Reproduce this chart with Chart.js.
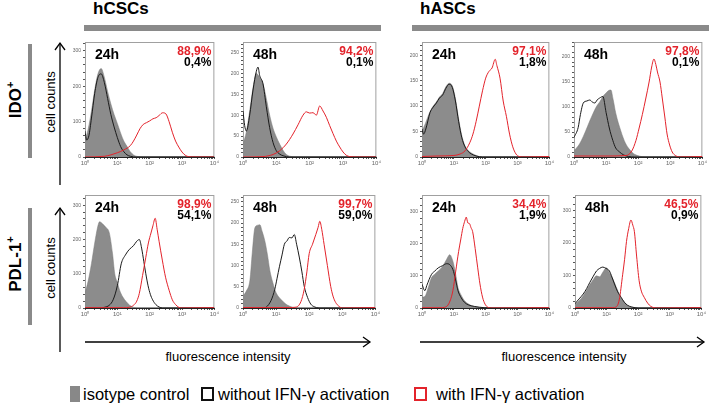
<!DOCTYPE html>
<html>
<head>
<meta charset="utf-8">
<script src="https://cdn.jsdelivr.net/npm/chart.js@4.4.0/dist/chart.umd.min.js"></script>
<style>
body { margin: 0; background: #fff; font-family: "Liberation Sans", Arial, sans-serif; }
#wrap { position: relative; width: 709px; height: 407px; overflow: hidden; }
canvas { position: absolute; }
.abs { position: absolute; white-space: nowrap; color: #000; }
.head { font-weight: bold; font-size: 17px; line-height: 20px; }
.bar { position: absolute; background: #8a8a8a; }
.rot { position: absolute; white-space: nowrap; transform: translate(-50%, -50%) rotate(-90deg); }
.row { font-weight: bold; font-size: 17px; }
.cc { font-size: 13px; }
.fl { font-size: 13px; transform: translateX(-50%); }
.leg { font-size: 16.5px; line-height: 18px; }
.sw { position: absolute; box-sizing: border-box; }
svg { position: absolute; left: 0; top: 0; }
</style>
</head>
<body>
<div id="wrap">
  <div class="abs head" style="left:93px;top:-1px">hCSCs</div>
  <div class="abs head" style="left:420px;top:-1px">hASCs</div>
  <div class="bar" style="left:84px;top:25px;width:297px;height:6px"></div>
  <div class="bar" style="left:412px;top:25px;width:297px;height:6px"></div>
  <div class="bar" style="left:28px;top:44px;width:4px;height:114px"></div>
  <div class="bar" style="left:28px;top:208px;width:4px;height:117px"></div>
  <div class="rot row" style="left:15px;top:100px">IDO<sup style="font-size:11px">+</sup></div>
  <div class="rot row" style="left:15px;top:264px">PDL-1<sup style="font-size:11px">+</sup></div>
  <div class="rot cc" style="left:50px;top:102px">cell counts</div>
  <div class="rot cc" style="left:50px;top:268px">cell counts</div>
  <div class="abs fl" style="left:228px;top:349px">fluorescence intensity</div>
  <div class="abs fl" style="left:564px;top:349px">fluorescence intensity</div>
  <svg width="709" height="407">
    <g stroke="#000" stroke-width="1.3" fill="none">
      <line x1="60" y1="185" x2="60" y2="43"/>
      <polyline points="55,50 60,43 65,50"/>
      <line x1="60" y1="352" x2="60" y2="208"/>
      <polyline points="55,215 60,208 65,215"/>
      <line x1="85" y1="342" x2="370" y2="342"/>
      <polyline points="363,337 370,342 363,347"/>
      <line x1="420" y1="342" x2="704" y2="342"/>
      <polyline points="697,337 704,342 697,347"/>
    </g>
  </svg>
  <div class="sw" style="left:70px;top:386px;width:10px;height:16px;background:#888"></div>
  <div class="abs leg" style="left:83px;top:385px">isotype control</div>
  <div class="sw" style="left:201px;top:387px;width:13px;height:14px;border:2px solid #111"></div>
  <div class="abs leg" style="left:218px;top:385px">without IFN-γ activation</div>
  <div class="sw" style="left:414px;top:387px;width:13px;height:14px;border:2px solid #e3232b"></div>
  <div class="abs leg" style="left:436px;top:385px">with IFN-γ activation</div>
</div>
<script>
// histogram points: [log10 of fluorescence, cell count]
const timeLabels = ['24h', '48h', '24h', '48h', '24h', '48h', '24h', '48h'];
const withPct = ['88,9%', '94,2%', '97,1%', '97,8%', '98,9%', '99,7%', '34,4%', '46,5%'];
const withoutPct = ['0,4%', '0,1%', '1,8%', '0,1%', '54,1%', '59,0%', '1,9%', '0,9%'];
const yMax = [325, 275, 226, 230, 330, 266, 352, 348];
const yStep = [100, 50, 50, 50, 100, 50, 100, 100];

// hCSCs IDO+ 24h
const cscIdo24Iso = [[0,46],[0.1,80],[0.2,130],[0.3,190],[0.4,235],[0.5,250],[0.6,225],[0.7,185],[0.8,150],[0.9,120],[1.0,95],[1.1,68],[1.2,45],[1.3,30],[1.4,15],[1.5,6],[1.6,2],[1.8,0],[4,0]];
const cscIdo24Without = [[0,73],[0.05,48],[0.12,60],[0.2,110],[0.3,180],[0.4,225],[0.5,235],[0.6,210],[0.7,165],[0.8,120],[0.9,85],[1.0,55],[1.1,30],[1.2,15],[1.3,6],[1.4,2],[1.6,0],[4,0]];
const cscIdo24With = [[0,0],[0.6,2],[0.8,6],[1.0,12],[1.2,20],[1.4,32],[1.5,45],[1.6,62],[1.7,80],[1.8,92],[1.9,97],[2.0,102],[2.1,108],[2.2,111],[2.3,118],[2.4,125],[2.5,122],[2.6,100],[2.7,70],[2.8,45],[2.9,28],[3.0,14],[3.1,5],[3.2,1],[3.4,0],[4,0]];

// hCSCs IDO+ 48h
const cscIdo48Iso = [[0,31],[0.1,60],[0.2,110],[0.3,165],[0.4,200],[0.5,190],[0.6,175],[0.7,140],[0.8,100],[0.9,69],[1.0,48],[1.1,31],[1.2,16],[1.3,6],[1.4,2],[1.6,0],[4,0]];
const cscIdo48Without = [[0,110],[0.05,75],[0.1,62],[0.2,100],[0.3,160],[0.4,205],[0.45,215],[0.5,195],[0.6,175],[0.7,120],[0.8,70],[0.9,35],[1.0,15],[1.1,7],[1.2,3],[1.4,0],[4,0]];
const cscIdo48With = [[0,0],[0.6,1],[0.9,6],[1.1,15],[1.3,31],[1.5,55],[1.65,77],[1.8,100],[1.9,108],[2.0,105],[2.1,106],[2.2,100],[2.3,122],[2.4,110],[2.5,95],[2.6,75],[2.7,56],[2.8,38],[2.9,24],[3.0,12],[3.1,4],[3.2,1],[3.4,0],[4,0]];

// hASCs IDO+ 24h
const ascIdo24Iso = [[0,51],[0.1,65],[0.25,89],[0.35,100],[0.45,108],[0.55,118],[0.65,125],[0.75,138],[0.85,145],[0.95,140],[1.05,115],[1.15,75],[1.25,42],[1.35,22],[1.45,13],[1.55,8],[1.7,3],[1.9,0],[4,0]];
const ascIdo24Without = [[0,55],[0.05,45],[0.12,55],[0.25,87],[0.35,98],[0.45,106],[0.55,116],[0.65,122],[0.75,135],[0.85,143],[0.95,137],[1.05,110],[1.15,70],[1.25,38],[1.35,20],[1.45,11],[1.55,6],[1.7,2],[1.9,0],[4,0]];
const ascIdo24With = [[0,1],[0.5,2],[1.0,3],[1.2,6],[1.35,12],[1.5,28],[1.6,45],[1.7,70],[1.8,100],[1.9,130],[2.0,155],[2.1,168],[2.2,175],[2.3,192],[2.35,180],[2.45,155],[2.55,110],[2.65,80],[2.75,45],[2.85,20],[2.95,6],[3.05,1],[3.2,0],[4,1]];

// hASCs IDO+ 48h
const ascIdo48Iso = [[0,13],[0.13,22],[0.23,33],[0.35,50],[0.49,72],[0.6,88],[0.7,101],[0.8,110],[0.9,121],[1.0,128],[1.08,133],[1.15,134],[1.22,115],[1.3,88],[1.46,52],[1.6,28],[1.72,16],[1.85,7],[2.03,2],[2.2,0],[4,0]];
const ascIdo48Without = [[0,39],[0.13,59],[0.2,85],[0.29,108],[0.4,112],[0.49,114],[0.57,110],[0.65,108],[0.72,114],[0.8,118],[0.9,121],[1.0,89],[1.1,58],[1.21,33],[1.3,18],[1.42,10],[1.55,4],[1.7,1],[1.9,0],[4,0]];
const ascIdo48With = [[0,2],[1.0,2],[1.62,3],[1.8,12],[1.93,33],[2.03,58],[2.13,85],[2.24,118],[2.34,150],[2.42,180],[2.49,196],[2.55,185],[2.6,170],[2.68,150],[2.75,118],[2.83,80],[2.9,46],[2.98,24],[3.06,10],[3.16,3],[3.3,0],[4,1]];

// hCSCs PDL-1+ 24h
const cscPdl24Iso = [[0,43],[0.1,80],[0.2,130],[0.3,190],[0.4,240],[0.45,252],[0.55,245],[0.65,235],[0.75,220],[0.85,160],[0.92,100],[1.0,75],[1.07,52],[1.17,32],[1.27,19],[1.37,9],[1.48,3],[1.6,0],[4,0]];
const cscPdl24Without = [[0,0],[0.5,0],[0.6,2],[0.75,8],[0.87,24],[1.0,65],[1.12,129],[1.25,155],[1.37,171],[1.5,182],[1.6,195],[1.68,200],[1.75,175],[1.82,135],[1.88,100],[1.95,65],[2.02,40],[2.09,24],[2.19,10],[2.29,3],[2.4,0],[4,0]];
const cscPdl24With = [[0,1],[1.2,1],[1.37,2],[1.5,8],[1.6,20],[1.68,43],[1.78,95],[1.88,148],[1.96,190],[2.04,219],[2.1,240],[2.17,262],[2.23,230],[2.29,195],[2.39,140],[2.49,90],[2.6,52],[2.7,24],[2.8,10],[2.9,2],[3.0,0],[4,1]];

// hCSCs PDL-1+ 48h
const cscPdl48Iso = [[0,28],[0.1,40],[0.21,66],[0.28,130],[0.36,189],[0.45,195],[0.51,196],[0.58,180],[0.66,158],[0.74,125],[0.81,89],[0.9,60],[1.0,36],[1.15,20],[1.3,9],[1.5,2],[1.7,0],[4,0]];
const cscPdl48Without = [[0,0],[0.6,0],[0.7,2],[0.85,18],[0.96,44],[1.03,70],[1.1,97],[1.18,125],[1.25,150],[1.33,158],[1.4,166],[1.48,165],[1.55,173],[1.62,150],[1.7,120],[1.78,85],[1.85,51],[1.95,25],[2.05,9],[2.15,3],[2.3,0],[4,0]];
const cscPdl48With = [[0,1],[1.4,1],[1.6,2],[1.75,15],[1.85,44],[1.93,85],[2.0,128],[2.1,150],[2.2,173],[2.27,190],[2.32,204],[2.38,185],[2.45,150],[2.55,100],[2.65,51],[2.72,28],[2.8,13],[2.9,4],[3.0,0],[4,1]];

// hASCs PDL-1+ 24h
const ascPdl24Iso = [[0,34],[0.09,36],[0.2,65],[0.3,95],[0.4,105],[0.51,115],[0.65,130],[0.77,151],[0.87,166],[0.97,146],[1.05,110],[1.13,64],[1.23,40],[1.33,23],[1.45,13],[1.54,8],[1.7,3],[1.9,1],[2.1,0],[4,0]];
const ascPdl24Without = [[0,74],[0.09,54],[0.15,70],[0.3,105],[0.4,115],[0.51,125],[0.65,132],[0.77,138],[0.87,135],[0.97,120],[1.05,90],[1.13,54],[1.23,32],[1.33,18],[1.45,10],[1.64,5],[1.95,1],[2.2,0],[4,0]];
const ascPdl24With = [[0,1],[0.6,1],[0.71,2],[0.85,15],[0.97,54],[1.06,115],[1.15,176],[1.22,215],[1.28,248],[1.34,270],[1.39,283],[1.44,265],[1.49,263],[1.54,250],[1.59,238],[1.67,185],[1.75,125],[1.82,75],[1.9,34],[1.98,12],[2.06,3],[2.2,0],[4,1]];

// hASCs PDL-1+ 48h
const ascPdl48Iso = [[0,10],[0.13,22],[0.26,38],[0.37,55],[0.47,72],[0.58,88],[0.68,99],[0.78,96],[0.88,110],[0.99,124],[1.07,112],[1.15,99],[1.25,78],[1.35,54],[1.45,33],[1.56,18],[1.66,8],[1.8,2],[2.0,0],[4,0]];
const ascPdl48Without = [[0,13],[0.13,28],[0.26,43],[0.37,60],[0.47,79],[0.58,98],[0.68,114],[0.78,122],[0.88,126],[0.98,122],[1.09,114],[1.17,95],[1.25,74],[1.35,50],[1.46,33],[1.56,18],[1.67,8],[1.8,3],[2.0,0],[4,0]];
const ascPdl48With = [[0,1],[1.2,1],[1.3,3],[1.4,25],[1.51,104],[1.57,150],[1.63,205],[1.7,245],[1.77,271],[1.83,255],[1.88,235],[1.95,160],[2.03,84],[2.1,52],[2.19,33],[2.3,15],[2.4,5],[2.5,1],[2.6,0],[4,1]];

const panelData = [
  [cscIdo24Iso, cscIdo24Without, cscIdo24With],
  [cscIdo48Iso, cscIdo48Without, cscIdo48With],
  [ascIdo24Iso, ascIdo24Without, ascIdo24With],
  [ascIdo48Iso, ascIdo48Without, ascIdo48With],
  [cscPdl24Iso, cscPdl24Without, cscPdl24With],
  [cscPdl48Iso, cscPdl48Without, cscPdl48With],
  [ascPdl24Iso, ascPdl24Without, ascPdl24With],
  [ascPdl48Iso, ascPdl48Without, ascPdl48With]
];

// plot boxes on the page (left, top, width, height)
const boxes = [
  [85, 40, 131, 117], [243, 40, 135, 117], [422, 40, 129, 117], [574, 40, 130, 117],
  [85, 193, 131, 115], [243, 193, 134, 115], [422, 193, 129, 115], [575, 193, 128, 115]
];

const RED = '#e3232b';
const FONT = '"Liberation Sans", Arial, sans-serif';
const sup = ['\u2070', '\u00b9', '\u00b2', '\u00b3', '\u2074'];

const xTicks = [];
for (let d = 1; d < 10000; d *= 10) {
  for (let m = 1; m < 10; m++) xTicks.push(m * d);
}
xTicks.push(10000);

const panelText = {
  id: 'panelText',
  beforeDatasetsDraw(chart) {
    const a = chart.chartArea, ctx = chart.ctx;
    ctx.save();
    ctx.strokeStyle = '#a0a0a0';
    ctx.lineWidth = 1;
    ctx.strokeRect(a.left + 0.5, a.top + 0.5, a.right - a.left - 1, a.bottom - a.top - 1);
    ctx.restore();
  },
  afterDatasetsDraw(chart, args, opts) {
    const a = chart.chartArea, ctx = chart.ctx;
    ctx.save();
    ctx.textBaseline = 'top';
    ctx.font = 'bold 14px ' + FONT;
    ctx.fillStyle = '#000';
    ctx.textAlign = 'left';
    ctx.fillText(opts.time, a.left + 10, a.top + 6);
    ctx.font = 'bold 12px ' + FONT;
    ctx.textAlign = 'right';
    ctx.fillStyle = RED;
    ctx.fillText(opts.pos, a.right - 3, a.top + 4);
    ctx.fillStyle = '#000';
    ctx.fillText(opts.neg, a.right - 3, a.top + 15);
    ctx.restore();
  }
};

function toPoints(arr) {
  return arr.map(p => ({ x: Math.pow(10, p[0]), y: p[1] }));
}

const wrap = document.getElementById('wrap');

boxes.forEach((b, i) => {
  const cv = document.createElement('canvas');
  cv.width = b[2] + 26;
  cv.height = b[3] + 19;
  cv.style.left = (b[0] - 22) + 'px';
  cv.style.top = (b[1] - 3) + 'px';
  wrap.appendChild(cv);

  const step = yStep[i];
  const minor = step / 5;
  const sets = panelData[i];

  new Chart(cv.getContext('2d'), {
    type: 'line',
    data: {
      datasets: [
        {
          label: 'isotype control',
          data: toPoints(sets[0]),
          borderColor: '#7a7a7a',
          borderWidth: 0.5,
          backgroundColor: '#8c8c8c',
          fill: 'origin',
          pointRadius: 0,
          cubicInterpolationMode: 'monotone',
          order: 3
        },
        {
          label: 'without IFN-γ activation',
          data: toPoints(sets[1]),
          borderColor: '#1a1a1a',
          borderWidth: 1,
          fill: false,
          pointRadius: 0,
          cubicInterpolationMode: 'monotone',
          order: 2
        },
        {
          label: 'with IFN-γ activation',
          data: toPoints(sets[2]),
          borderColor: RED,
          borderWidth: 1,
          fill: false,
          pointRadius: 0,
          cubicInterpolationMode: 'monotone',
          order: 1
        }
      ]
    },
    options: {
      responsive: false,
      animation: false,
      events: [],
      layout: { padding: { top: 3, right: 4, left: 0, bottom: 0 } },
      plugins: {
        legend: { display: false },
        tooltip: { enabled: false },
        panelText: { time: timeLabels[i], pos: withPct[i], neg: withoutPct[i] }
      },
      scales: {
        x: {
          type: 'logarithmic',
          min: 1,
          max: 10000,
          afterBuildTicks: s => { s.ticks = xTicks.map(v => ({ value: v })); },
          afterFit: s => { s.height = 16; },
          ticks: {
            autoSkip: false,
            maxRotation: 0,
            padding: 1,
            color: '#666',
            font: { size: 6, family: FONT },
            callback: v => {
              const e = Math.log10(v);
              return Math.abs(e - Math.round(e)) < 1e-9 ? '10' + sup[Math.round(e)] : '';
            }
          },
          grid: { drawOnChartArea: false, tickLength: 2, color: '#555' },
          border: { color: '#222' }
        },
        y: {
          min: 0,
          max: yMax[i],
          afterBuildTicks: s => {
            const t = [];
            for (let v = 0; v <= yMax[i]; v += minor) t.push({ value: v });
            s.ticks = t;
          },
          afterFit: s => { s.width = 22; },
          ticks: {
            autoSkip: false,
            padding: 2,
            color: '#666',
            font: { size: 5, family: FONT },
            callback: v => (v % step === 0 ? String(v) : '')
          },
          grid: { drawOnChartArea: false, tickLength: 2, color: '#555' },
          border: { color: '#222' }
        }
      }
    },
    plugins: [panelText]
  });
});
</script>
</body>
</html>
